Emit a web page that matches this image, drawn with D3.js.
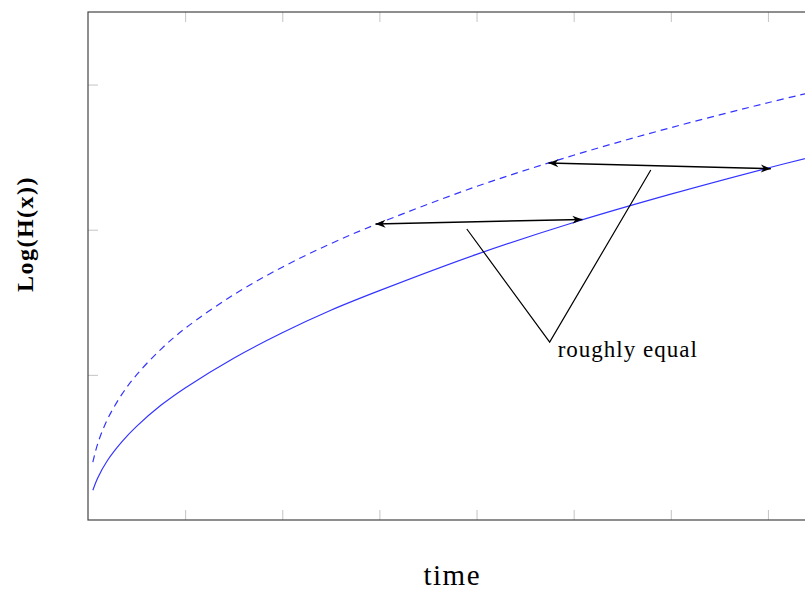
<!DOCTYPE html>
<html>
<head>
<meta charset="utf-8">
<script src="https://cdn.jsdelivr.net/npm/d3@7"></script>
<style>
  html, body { margin: 0; padding: 0; background: #fff; }
  svg { display: block; }
  text { font-family: "Liberation Serif", "DejaVu Serif", serif; fill: #000; }
</style>
</head>
<body>
<svg id="chart" width="805" height="592"></svg>
<script>
// sample positions along the time axis
const times = [0.05, 0.1, 0.2, 0.35, 0.5, 0.75, 1, 1.5, 2, 2.5, 3, 4, 5, 6, 7, 7.5];
// solid curve: Log(H(x))
const logH = [0.205, 0.29, 0.41, 0.54, 0.645, 0.79, 0.91, 1.115, 1.29, 1.445, 1.58, 1.83, 2.05, 2.245, 2.425, 2.51];
// dashed curve: faster-growing reference
const logHFast = [0.398, 0.526, 0.693, 0.867, 1.00, 1.176, 1.32, 1.552, 1.742, 1.904, 2.046, 2.298, 2.513, 2.703, 2.875, 2.955];

const xTicks = [0, 1, 2, 3, 4, 5, 6, 7];
const yTicks = [0, 1, 2, 3];

// horizontal "same height" arrows: [x0, y0, x1, y1]
const arrows = [
  [2.96, 2.04, 5.09, 2.07],
  [4.74, 2.46, 7.03, 2.42]
];
// V shaped pointer and its note
const pointer = [[3.90, 2.005], [4.753, 1.226], [5.794, 2.411]];
const noteText = "roughly equal";

const svg = d3.select("#chart");
const mLeft = 88, mTop = 12, mBottom = 520, mRight = 816.5;

const x = d3.scaleLinear().domain([0, 7.5]).range([mLeft, mRight]);
const y = d3.scaleLinear().domain([0, 3.5]).range([mBottom, mTop]);

const defs = svg.append("defs");
// clip for plot contents
defs.append("clipPath").attr("id", "plotclip")
  .append("rect").attr("x", mLeft).attr("y", mTop)
  .attr("width", mRight - mLeft).attr("height", mBottom - mTop);

// arrowhead (stealth style)
defs.append("marker")
  .attr("id", "stealth")
  .attr("viewBox", "-11 -5 12 10")
  .attr("refX", 0).attr("refY", 0)
  .attr("markerWidth", 12).attr("markerHeight", 10)
  .attr("markerUnits", "userSpaceOnUse")
  .attr("orient", "auto-start-reverse")
  .append("path")
  .attr("d", "M0,0 L-10,-4 L-7,0 L-10,4 Z")
  .attr("fill", "#000");

// inner ticks on all four sides
const tickLen = 10;
const tickColor = "#c4c4c4";
const axisG = svg.append("g");
function styleAxis(g) {
  g.select(".domain").remove();
  g.selectAll(".tick line").attr("stroke", tickColor).attr("stroke-width", 1);
  g.selectAll(".tick text").remove();
}
axisG.append("g").attr("transform", `translate(0,${mBottom})`)
  .call(d3.axisTop(x).tickValues(xTicks.slice(1)).tickSize(tickLen)).call(styleAxis);
axisG.append("g").attr("transform", `translate(0,${mTop})`)
  .call(d3.axisBottom(x).tickValues(xTicks.slice(1)).tickSize(tickLen)).call(styleAxis);
axisG.append("g").attr("transform", `translate(${mLeft},0)`)
  .call(d3.axisRight(y).tickValues(yTicks.slice(1)).tickSize(tickLen)).call(styleAxis);
axisG.append("g").attr("transform", `translate(${mRight},0)`)
  .call(d3.axisLeft(y).tickValues(yTicks.slice(1)).tickSize(tickLen)).call(styleAxis);

// curves
const line = d3.line()
  .x(d => x(d[0])).y(d => y(d[1]))
  .curve(d3.curveCatmullRom.alpha(0.5));

const plot = svg.append("g").attr("clip-path", "url(#plotclip)");
plot.append("path")
  .datum(times.map((t, i) => [t, logHFast[i]]))
  .attr("d", line)
  .attr("fill", "none").attr("stroke", "#3434ff").attr("stroke-width", 1.2)
  .attr("stroke-dasharray", "7,5");
plot.append("path")
  .datum(times.map((t, i) => [t, logH[i]]))
  .attr("d", line)
  .attr("fill", "none").attr("stroke", "#3434ff").attr("stroke-width", 1.2);

// double-headed arrows
svg.append("g").selectAll("line").data(arrows).join("line")
  .attr("x1", d => x(d[0])).attr("y1", d => y(d[1]))
  .attr("x2", d => x(d[2])).attr("y2", d => y(d[3]))
  .attr("stroke", "#000").attr("stroke-width", 1.5)
  .attr("marker-start", "url(#stealth)").attr("marker-end", "url(#stealth)");

// pointer and note
svg.append("path")
  .attr("d", d3.line().x(d => x(d[0])).y(d => y(d[1]))(pointer))
  .attr("fill", "none").attr("stroke", "#000").attr("stroke-width", 1.2);
svg.append("text")
  .attr("x", x(pointer[1][0]) + 8).attr("y", y(pointer[1][1]) + 15)
  .attr("font-size", 23).attr("letter-spacing", 1)
  .text(noteText);

// frame
svg.append("rect")
  .attr("x", mLeft).attr("y", mTop)
  .attr("width", mRight - mLeft).attr("height", mBottom - mTop)
  .attr("fill", "none").attr("stroke", "#444").attr("stroke-width", 1.2);

// axis titles
svg.append("text")
  .attr("x", (mLeft + mRight) / 2).attr("y", 585)
  .attr("text-anchor", "middle").attr("font-size", 29).attr("letter-spacing", 1.5)
  .text("time");
svg.append("text")
  .attr("transform", "translate(33,234) rotate(-90)")
  .attr("text-anchor", "middle").attr("font-size", 24).attr("font-weight", "bold")
  .attr("letter-spacing", 1.5)
  .text("Log(H(x))");
</script>
</body>
</html>
